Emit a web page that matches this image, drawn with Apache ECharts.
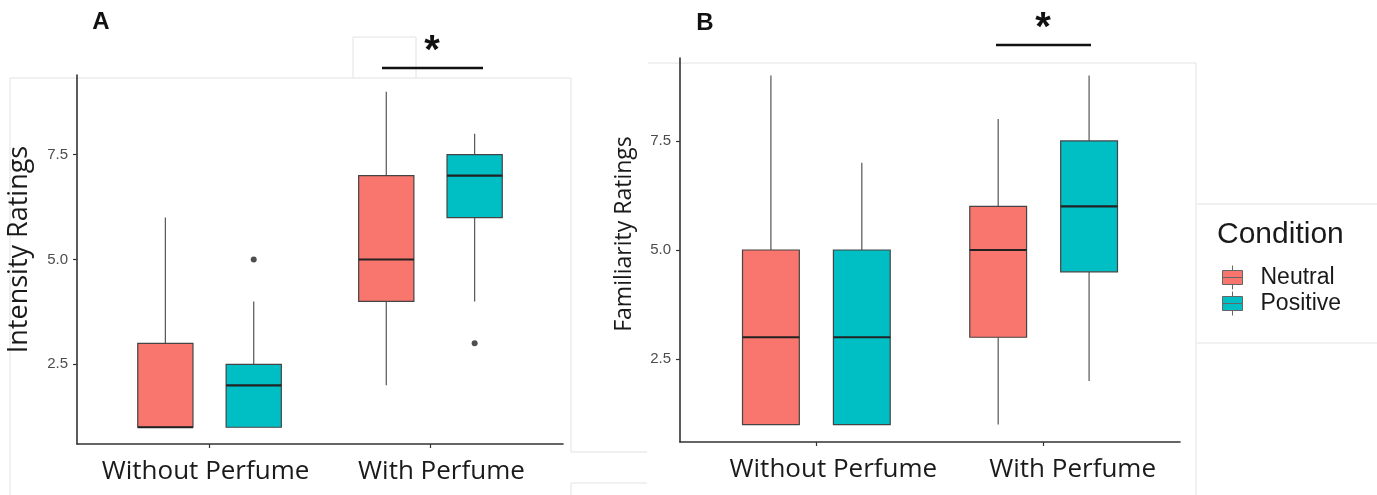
<!DOCTYPE html>
<html><head><meta charset="utf-8">
<script src="https://cdn.jsdelivr.net/npm/echarts@6/dist/echarts.min.js"></script>
<style>html,body{margin:0;padding:0;background:#fff}#c{width:1377px;height:495px}</style>
</head><body><div id="c"></div>
<script>
// ---------- data ----------
const categories = ['Without Perfume', 'With Perfume'];
const conditions = ['Neutral', 'Positive'];
const yTicks = [2.5, 5.0, 7.5];
// each row: [min, Q1, median, Q3, max] for one category
const intensityNeutral = [[1, 1, 1, 3, 6], [2, 4, 5, 7, 9]];
const intensityPositive = [[1, 1, 2, 2.5, 4], [4, 6, 7, 7.5, 8]];
const intensityNeutralOutliers = [];              // [category index, value]
const intensityPositiveOutliers = [[0, 5], [1, 3]];
const familiarityNeutral = [[1, 1, 3, 5, 9], [1, 3, 5, 6, 8]];
const familiarityPositive = [[1, 1, 3, 5, 7], [2, 4.5, 6, 7.5, 9]];
const familiarityNeutralOutliers = [];
const familiarityPositiveOutliers = [];

// ---------- styles ----------
const COLORS = { Neutral: '#F8766D', Positive: '#00BFC4' };
const DODGE = { Neutral: -0.2, Positive: 0.2 };
const BOX_W = 0.25;
const LABEL_FONT = 'Open Sans';

function boxSeries(name, rows, gi) {
  const color = COLORS[name], off = DODGE[name];
  return {
    type: 'custom', name, xAxisIndex: gi, yAxisIndex: gi,
    itemStyle: { color },
    data: rows.map((r, i) => [i + 1].concat(r)),
    encode: { x: 0, y: [1, 2, 3, 4, 5] },
    silent: true,
    renderItem(params, api) {
      const x = api.value(0) + off;
      const p = k => api.coord([x, api.value(k)]);
      const pMin = p(1), pQ1 = p(2), pMed = p(3), pQ3 = p(4), pMax = p(5);
      const hw = api.size([BOX_W, 0])[0] / 2;
      const cx = pMin[0];
      return { type: 'group', children: [
        { type: 'line', shape: { x1: cx, y1: pMax[1], x2: cx, y2: pQ3[1] }, style: { stroke: '#555', lineWidth: 1.2 } },
        { type: 'line', shape: { x1: cx, y1: pQ1[1], x2: cx, y2: pMin[1] }, style: { stroke: '#555', lineWidth: 1.2 } },
        { type: 'rect', shape: { x: cx - hw, y: pQ3[1], width: 2 * hw, height: pQ1[1] - pQ3[1] }, style: { fill: color, stroke: '#444', lineWidth: 1.2 } },
        { type: 'line', shape: { x1: cx - hw, y1: pMed[1], x2: cx + hw, y2: pMed[1] }, style: { stroke: '#222', lineWidth: 2.2 } }
      ] };
    }
  };
}
function outlierSeries(name, pts, gi) {
  return {
    type: 'scatter', xAxisIndex: gi, yAxisIndex: gi, silent: true,
    symbolSize: 6, itemStyle: { color: '#222' },
    data: pts.map(([ci, v]) => [ci + 1 + DODGE[name], v])
  };
}
// per-panel horizontal nudges of the category labels (px, + = right)
const LABEL_SHIFT = [[-4, 11], [17, 29]];
function xAxis(gi) {
  const rich = {};
  LABEL_SHIFT[gi].forEach((s, i) => {
    rich['c' + i] = { fontFamily: LABEL_FONT, fontSize: 26, color: '#1a1a1a',
      padding: s >= 0 ? [0, 0, 0, 2 * s] : [0, -2 * s, 0, 0] };
  });
  return {
    type: 'value', gridIndex: gi, min: 0.4, max: 2.6, splitLine: { show: false },
    axisLine: { show: true, onZero: false, lineStyle: { color: '#333', width: 1.6 } },
    axisTick: { show: true, customValues: [1, 2], length: 4, lineStyle: { color: '#333', width: 1.2 } },
    axisLabel: { customValues: [1, 2],
      formatter: v => { const i = Math.round(v) - 1; return '{c' + i + '|' + categories[i] + '}'; },
      rich, margin: 15 }
  };
}
function yAxis(gi, name, size, shift) {
  return {
    type: 'value', gridIndex: gi, min: 0.6, max: 9.4, splitLine: { show: false },
    axisLine: { show: true, onZero: false, lineStyle: { color: '#333', width: 1.6 } },
    axisTick: { show: true, customValues: yTicks, length: 4, lineStyle: { color: '#333', width: 1.2 } },
    axisLabel: { customValues: yTicks, formatter: v => v.toFixed(1),
      fontFamily: 'Liberation Sans', fontSize: 15, color: '#4d4d4d', margin: 9 },
    name, nameLocation: 'middle', nameGap: 44,
    nameTextStyle: { fontFamily: LABEL_FONT, fontSize: size, color: '#1a1a1a', padding: [0, 0, 0, shift] }
  };
}
const faint = { stroke: '#e2e2e2', lineWidth: 1 };
function fl(x1, y1, x2, y2) { return { type: 'line', shape: { x1, y1, x2, y2 }, style: faint, silent: true }; }

const chart = echarts.init(document.getElementById('c'), null, { renderer: 'canvas' });
chart.setOption({
  animation: false,
  backgroundColor: '#fff',
  grid: [
    { left: 77, top: 75, width: 486, height: 369 },
    { left: 680, top: 58, width: 500, height: 384 }
  ],
  xAxis: [xAxis(0), xAxis(1)],
  yAxis: [yAxis(0, 'Intensity Ratings', 27, 20), yAxis(1, 'Familiarity Ratings', 23, 32)],
  legend: {
    data: conditions.map(n => ({ name: n })),
    orient: 'vertical', left: 1217, top: 260,
    itemWidth: 22, itemHeight: 24, itemGap: 1,
    icon: 'path://M11,0L11,5M11,19L11,24M1,5L21,5L21,19L1,19ZM1,12L21,12',
    itemStyle: { borderColor: '#666', borderWidth: 1 },
    textStyle: { fontFamily: 'Liberation Sans', fontSize: 23, color: '#1a1a1a', padding: [0, 0, 0, 12], lineHeight: 20 }
  },
  graphic: [
    fl(10, 78, 571, 78), fl(10, 78, 10, 495),
    fl(353, 78, 353, 37), fl(353, 37, 416, 37), fl(416, 37, 416, 78),
    fl(571, 78, 571, 452), fl(571, 452, 647, 452),
    fl(571, 483, 647, 483), fl(571, 483, 571, 495),
    fl(648, 63, 1196, 63), fl(1196, 63, 1196, 495),
    fl(1197, 204, 1377, 204), fl(1197, 343, 1377, 343),
    { type: 'text', x: 101, y: 22, style: { text: 'A', font: 'bold 24px "Liberation Sans"', fill: '#111', align: 'center', verticalAlign: 'middle' } },
    { type: 'text', x: 705, y: 23, style: { text: 'B', font: 'bold 24px "Liberation Sans"', fill: '#111', align: 'center', verticalAlign: 'middle' } },
    { type: 'text', x: 1217, y: 235, style: { text: 'Condition', font: '30px "Liberation Sans"', fill: '#1a1a1a', align: 'left', verticalAlign: 'middle' } },
    { type: 'text', x: 432, y: 52, style: { text: '*', font: 'bold 40px "Liberation Sans"', fill: '#111', align: 'center', verticalAlign: 'middle' } },
    { type: 'text', x: 1043, y: 29, style: { text: '*', font: 'bold 40px "Liberation Sans"', fill: '#111', align: 'center', verticalAlign: 'middle' } },
    { type: 'line', shape: { x1: 382, y1: 68, x2: 483, y2: 68 }, style: { stroke: '#111', lineWidth: 2.5 } },
    { type: 'line', shape: { x1: 996, y1: 45, x2: 1091, y2: 45 }, style: { stroke: '#111', lineWidth: 2.5 } }
  ],
  series: [
    boxSeries('Neutral', intensityNeutral, 0),
    boxSeries('Positive', intensityPositive, 0),
    outlierSeries('Neutral', intensityNeutralOutliers, 0),
    outlierSeries('Positive', intensityPositiveOutliers, 0),
    boxSeries('Neutral', familiarityNeutral, 1),
    boxSeries('Positive', familiarityPositive, 1),
    outlierSeries('Neutral', familiarityNeutralOutliers, 1),
    outlierSeries('Positive', familiarityPositiveOutliers, 1)
  ]
});
</script></body></html>
